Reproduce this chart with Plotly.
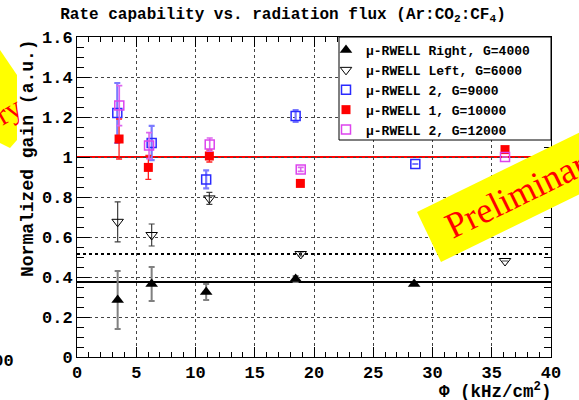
import plotly.graph_objects as go

# Flux (kHz/cm^2), normalized gain and its uncertainty for each detector setting
right_g4000_x = [3.43, 6.3, 10.9, 18.45, 28.45]
right_g4000_y = [0.285, 0.365, 0.325, 0.39, 0.365]
right_g4000_err = [0.145, 0.085, 0.04, 0.015, 0.0]

left_g6000_x = [3.43, 6.3, 11.17, 18.88, 36.12]
left_g6000_y = [0.676, 0.61, 0.793, 0.515, 0.48]
left_g6000_err = [0.1, 0.055, 0.03, 0.01, 0.0]

rwell2_g9000_x = [3.40, 6.3, 10.9, 18.45, 28.55]
rwell2_g9000_y = [1.22, 1.07, 0.888, 1.205, 0.965]
rwell2_g9000_err = [0.15, 0.086, 0.045, 0.03, 0.0]

rwell1_g10000_x = [3.55, 6.02, 11.17, 18.85, 36.12]
rwell1_g10000_y = [1.09, 0.948, 1.005, 0.868, 1.037]
rwell1_g10000_err = [0.1, 0.06, 0.03, 0.01, 0.01]

rwell2_g12000_x = [3.57, 6.08, 11.2, 18.88, 36.12]
rwell2_g12000_y = [1.257, 1.057, 1.062, 0.938, 1.0]
rwell2_g12000_err = [0.1, 0.065, 0.033, 0.01, 0.0]

# Reference gain levels
ref_unity = 1.0
ref_left = 0.515
ref_right = 0.375

series_names = [
    "\u03bc-RWELL Right, G=4000",
    "\u03bc-RWELL Left, G=6000",
    "\u03bc-RWELL 2, G=9000",
    "\u03bc-RWELL 1, G=10000",
    "\u03bc-RWELL 2, G=12000",
]

MONO = "Liberation Mono"
SERIF = "Liberation Serif"

W, H = 579, 400
L, R, T, B = 77, 28, 37, 43
PW, PH = W - L - R, H - T - B


def px(xp):
    return (xp - L) / PW


def py(yp):
    return (H - B - yp) / PH


fig = go.Figure()


def add_series(x, y, err, name, symbol, color, size, line_color, line_w, err_color, err_th):
    fig.add_trace(go.Scatter(
        x=x, y=y, mode="markers", name=name,
        marker=dict(symbol=symbol, size=size, color=color,
                    line=dict(color=line_color, width=line_w)),
        error_y=dict(type="data", array=err, visible=True, color=err_color,
                     thickness=err_th, width=3),
    ))


add_series(right_g4000_x, right_g4000_y, right_g4000_err, series_names[0],
           "triangle-up", "black", 11, "black", 0, "#808080", 2)
add_series(left_g6000_x, left_g6000_y, left_g6000_err, series_names[1],
           "triangle-down-open", "black", 10, "black", 1, "#404040", 1.2)
add_series(rwell2_g9000_x, rwell2_g9000_y, rwell2_g9000_err, series_names[2],
           "square-open", "#2a2aff", 9, "#2a2aff", 1.5, "#7b7bff", 2.2)
add_series(rwell1_g10000_x, rwell1_g10000_y, rwell1_g10000_err, series_names[3],
           "square", "#ff0000", 9, "#ff0000", 0, "#ff2020", 1.3)
add_series(rwell2_g12000_x, rwell2_g12000_y, rwell2_g12000_err, series_names[4],
           "square-open", "#dd44ee", 9, "#dd44ee", 1.5, "#dd66ee", 1.6)

shapes = [
    dict(type="line", xref="x", yref="y", x0=0, x1=40, y0=ref_unity, y1=ref_unity,
         line=dict(color="#ff0000", width=2), layer="below"),
    dict(type="line", xref="x", yref="y", x0=0, x1=40, y0=ref_left, y1=ref_left,
         line=dict(color="black", width=2, dash="3px,3px"), layer="below"),
    dict(type="line", xref="x", yref="y", x0=0, x1=40, y0=ref_right, y1=ref_right,
         line=dict(color="black", width=2), layer="below"),
    # legend frame
    dict(type="rect", xref="paper", yref="paper", x0=px(339), x1=1, y0=py(140), y1=1,
         fillcolor="white", line=dict(color="black", width=1), layer="above"),
]

# yellow banner on the right
bx = [417, 642, 666, 441]
by = [212, 102, 152, 262]
path = "M " + " L ".join(f"{px(a):.4f},{py(b):.4f}" for a, b in zip(bx, by)) + " Z"
shapes.append(dict(type="path", xref="paper", yref="paper", path=path,
                   fillcolor="#ffff00", line=dict(width=0), layer="above"))

# piece of a banner at the left edge
lx = [-5, 0, 17, 17, 10, 0, -5]
ly = [45, 50, 75, 140, 148, 143, 140]
path2 = "M " + " L ".join(f"{px(a):.4f},{py(b):.4f}" for a, b in zip(lx, ly)) + " Z"
shapes.append(dict(type="path", xref="paper", yref="paper", path=path2,
                   fillcolor="#ffff00", line=dict(width=0), layer="above"))

annotations = [
    dict(text="Preliminary", xref="paper", yref="paper", x=px(524), y=py(191),
         xanchor="center", yanchor="middle", textangle=-26, showarrow=False,
         font=dict(family=SERIF, size=36, color="#ff0000")),
    dict(text="ry", xref="paper", yref="paper", x=px(8), y=py(111),
         xanchor="center", yanchor="middle", textangle=-30, showarrow=False,
         font=dict(family=SERIF, size=30, color="#ff0000")),
    dict(text="100", xref="paper", yref="paper", x=px(16), y=py(361),
         xanchor="right", yanchor="middle", showarrow=False,
         font=dict(family=MONO, size=17, color="black", weight="bold")),
    dict(text="Normalized gain (a.u.)", xref="paper", yref="paper", x=px(28), y=py(158),
         xanchor="center", yanchor="middle", textangle=-90, showarrow=False,
         font=dict(family=MONO, size=18, color="black", weight="bold")),
    dict(text="\u03a6 (kHz/cm<sup>2</sup>)", xref="paper", yref="paper", x=px(553), y=py(391),
         xanchor="right", yanchor="middle", showarrow=False,
         font=dict(family=MONO, size=17.5, color="black", weight="bold")),
]

axis_common = dict(
    showline=True, linecolor="black", linewidth=1, mirror="ticks",
    ticks="inside", tickcolor="black", showgrid=True, gridcolor="#444444",
    griddash="dot", gridwidth=1, zeroline=False,
    tickfont=dict(family=MONO, size=17, color="black", weight="bold"),
)

fig.update_xaxes(range=[0, 40], dtick=5, ticklen=10, tickwidth=1,
                 minor=dict(dtick=1, ticks="inside", ticklen=5, tickcolor="black", showgrid=False),
                 **axis_common)
fig.update_yaxes(range=[0, 1.6], dtick=0.2, ticklen=13, tickwidth=1,
                 minor=dict(dtick=0.05, ticks="inside", ticklen=7, tickcolor="black", showgrid=False),
                 **axis_common)

fig.update_layout(
    width=W, height=H,
    margin=dict(l=L, r=R, t=T, b=B, pad=0),
    paper_bgcolor="white", plot_bgcolor="white",
    font=dict(family=MONO, color="black"),
    title=dict(text="Rate capability vs. radiation flux (Ar:CO<sub>2</sub>:CF<sub>4</sub>)",
               x=283 / W, xanchor="center", y=1 - 13 / H, yanchor="middle",
               font=dict(family=MONO, size=16, color="black", weight="bold")),
    showlegend=True,
    legend=dict(x=px(326), xanchor="left", y=py(35), yanchor="top",
                bgcolor="rgba(0,0,0,0)", borderwidth=0, itemwidth=30,
                font=dict(family=MONO, size=13, color="black", weight="bold"),
                tracegroupgap=0),
    shapes=shapes,
    annotations=annotations,
)

fig.write_html("out.html")
